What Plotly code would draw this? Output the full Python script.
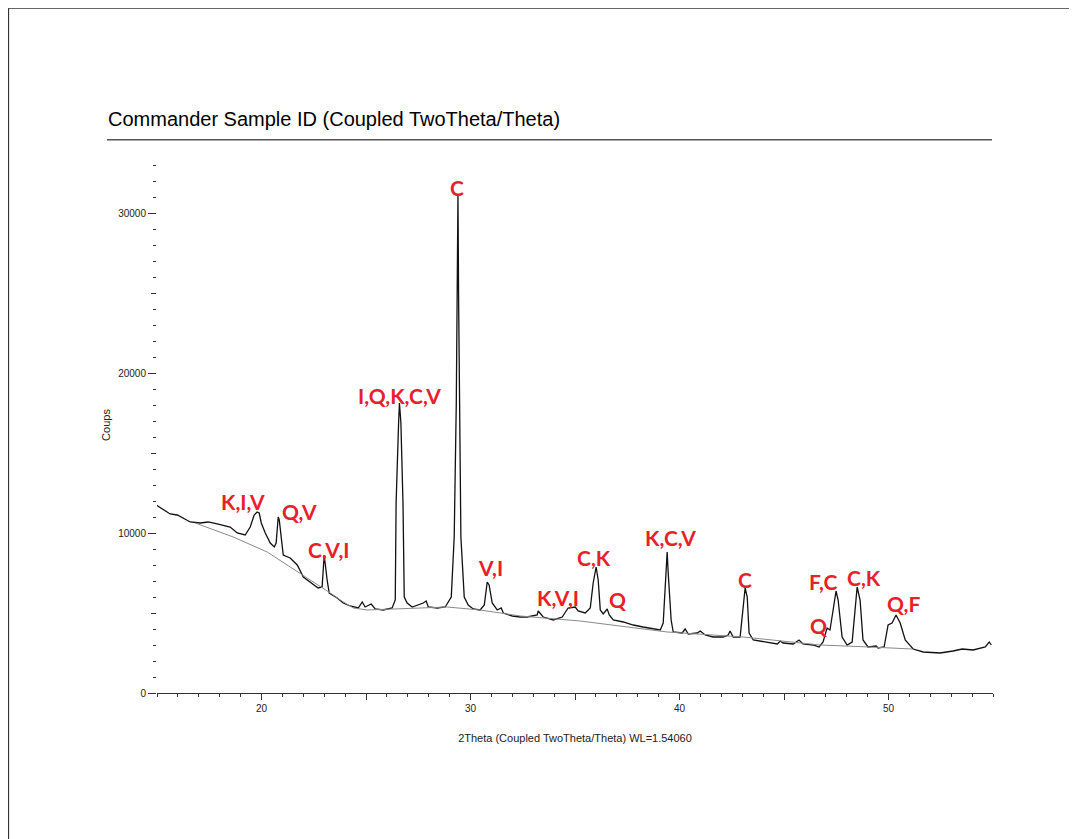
import plotly.graph_objects as go

# ---- diffraction pattern ----
two_theta = [14.96, 15.63, 15.97, 16.59, 17.07, 17.45, 17.88, 18.50, 18.84, 19.22,
             19.46, 19.65, 19.79, 19.89, 19.99, 20.18, 20.42, 20.61, 20.70, 20.80,
             20.85, 20.94, 21.04, 21.37, 21.71, 22.00, 22.33, 22.71, 22.90, 23.00,
             23.14, 23.24, 23.62, 23.91, 24.24, 24.63, 24.82, 24.96, 25.25, 25.44,
             25.82, 26.25, 26.40, 26.44, 26.56, 26.60, 26.67, 26.77, 26.83, 26.97,
             27.21, 27.45, 27.74, 27.88, 27.98, 28.41, 28.79, 29.08, 29.22, 29.32,
             29.36, 29.40, 29.43, 29.47, 29.54, 29.70, 29.89, 30.13, 30.46, 30.66,
             30.75, 30.80, 30.89, 31.04, 31.28, 31.47, 31.57, 32.00, 32.38, 32.71,
             33.19, 33.24, 33.48, 33.96, 34.39, 34.67, 35.01, 35.15, 35.49, 35.73,
             35.87, 36.01, 36.11, 36.21, 36.35, 36.54, 36.64, 36.83, 37.31, 37.79,
             38.26, 38.74, 39.08, 39.22, 39.32, 39.41, 39.46, 39.60, 39.70, 40.13,
             40.27, 40.42, 40.85, 40.99, 41.23, 41.61, 42.09, 42.33, 42.42, 42.57,
             42.90, 43.05, 43.14, 43.24, 43.33, 43.53, 44.20, 44.68, 44.82, 44.96,
             45.44, 45.72, 45.91, 46.39, 46.68, 46.87, 47.06, 47.20, 47.35, 47.49,
             47.59, 47.78, 48.02, 48.26, 48.40, 48.50, 48.64, 48.78, 49.02, 49.41,
             49.50, 49.79, 49.98, 50.17, 50.36, 50.56, 50.80, 51.18, 51.66, 52.47,
             53.09, 53.53, 54.05, 54.63, 54.82, 54.92]
counts = [11750, 11188, 11125, 10688, 10625, 10688, 10563, 10375, 10000, 9875,
          10375, 11125, 11313, 11250, 10625, 10000, 9375, 9125, 9375, 11000,
          10813, 9563, 8625, 8438, 8000, 7250, 6938, 6563, 6625, 8625,
          7063, 6250, 5938, 5625, 5438, 5313, 5688, 5375, 5563, 5250,
          5188, 5313, 5813, 11875, 16875, 18125, 16875, 11875, 6000, 5625,
          5375, 5500, 5625, 5750, 5375, 5313, 5375, 6000, 9750, 18125,
          24750, 31125, 24750, 18125, 9750, 6000, 5500, 5250, 5188, 5500,
          6625, 6938, 6750, 5625, 5188, 5313, 5000, 4813, 4750, 4750,
          4875, 5125, 4750, 4563, 4750, 5313, 5375, 5125, 5000, 5313,
          6875, 7875, 7063, 5188, 4938, 5250, 4875, 4563, 4438, 4250,
          4125, 4000, 3938, 4375, 6438, 8813, 7500, 4563, 3813, 3750,
          4000, 3688, 3750, 3875, 3625, 3500, 3500, 3625, 3875, 3500,
          3500, 5375, 6563, 6000, 3750, 3313, 3188, 3063, 3250, 3125,
          3063, 3313, 3063, 3000, 2875, 3188, 4063, 3938, 5188, 6375,
          5813, 3500, 3000, 3188, 5188, 6625, 5813, 3313, 2875, 2938,
          2813, 2875, 4250, 4375, 4875, 4375, 3313, 2750, 2563, 2500,
          2625, 2750, 2688, 2875, 3188, 3000]

# ---- background curve ----
bg_theta = [16.83, 18.65, 20.27, 21.85, 23.29, 23.77, 24.39, 25.06, 27.59, 28.88,
            30.46, 32.38, 35.25, 37.16, 39.41, 43.05, 46.73, 49.12, 51.13]
bg_counts = [10625, 9750, 8813, 7500, 6250, 5813, 5313, 5188, 5313, 5375,
             5188, 4813, 4500, 4188, 3813, 3500, 3000, 2875, 2750]

# ---- phase labels ----
label_text = ["C", "I,Q,K,C,V", "K,I,V", "Q,V", "C,V,I", "V,I", "K,V,I", "C,K",
              "Q", "K,C,V", "C", "F,C", "C,K", "Q", "Q,F"]
label_theta = [29.34, 26.59, 19.10, 21.83, 23.22, 30.97, 34.17, 35.92,
               37.02, 39.56, 43.12, 46.88, 48.81, 46.66, 50.73]
label_counts = [31563, 18625, 11938, 11313, 8938, 7813, 5938, 8500,
                5813, 9750, 7063, 6938, 7250, 4250, 5625]

# ---- axis ticks ----
x_tickvals = [20, 25, 30, 35, 40, 45, 50]
x_ticktext = ["20", "", "30", "", "40", "", "50"]
y_tickvals = [0, 10000, 20000, 30000]
y_ticktext = ["0", "10000", "20000", "30000"]
y_midticks = [5000, 15000, 25000]

X_RANGE = [15, 55]
Y_RANGE = [0, 33500]

FONT = "Liberation Sans, Arial, sans-serif"
AXC = "#333333"

fig = go.Figure()
fig.add_trace(go.Scatter(x=bg_theta, y=bg_counts, mode="lines",
                         line=dict(color="#8a8a8a", width=1), yaxis="y2",
                         hoverinfo="skip", showlegend=False))
fig.add_trace(go.Scatter(x=two_theta, y=counts, mode="lines",
                         line=dict(color="#111111", width=1.3),
                         showlegend=False))

for t, xv, yv in zip(label_text, label_theta, label_counts):
    fig.add_annotation(x=xv, y=yv, text=t, showarrow=False,
                       font=dict(family="Lato, Open Sans, sans-serif", size=21,
                                 color="#e8202a", weight="bold"),
                       xanchor="center", yanchor="middle")

fig.update_layout(
    width=1069, height=831,
    margin=dict(l=149, r=84, t=149, b=146),
    paper_bgcolor="white", plot_bgcolor="white",
    font=dict(family=FONT, size=10, color="#222222"),
    title=dict(text="Commander Sample ID (Coupled TwoTheta/Theta)",
               x=100 / 1069, xanchor="left", y=1 - 111 / 831, yanchor="middle",
               font=dict(family=FONT, size=20, color="#000000")),
    xaxis=dict(range=X_RANGE, tickmode="array", tickvals=x_tickvals,
               ticktext=x_ticktext, ticks="outside", ticklen=6, tickwidth=1,
               tickcolor=AXC, showline=True, linecolor=AXC, linewidth=1,
               showgrid=False, zeroline=False,
               minor=dict(dtick=1, tick0=0, ticks="outside", ticklen=3,
                          tickcolor=AXC, tickwidth=1, showgrid=False),
               title=dict(text="2Theta (Coupled TwoTheta/Theta) WL=1.54060",
                          font=dict(family=FONT, size=11, color="#222222"),
                          standoff=21),
               tickfont=dict(size=10)),
    yaxis=dict(range=Y_RANGE, tickmode="array", tickvals=y_tickvals,
               ticktext=y_ticktext, ticks="outside", ticklen=8, tickwidth=1,
               tickcolor=AXC, showline=False, showgrid=False, zeroline=False,
               minor=dict(dtick=1000, tick0=0, ticks="outside", ticklen=3,
                          tickcolor=AXC, tickwidth=1, showgrid=False),
               title=dict(text="Coups",
                          font=dict(family=FONT, size=11, color="#222222"),
                          standoff=5),
               tickfont=dict(size=10)),
    yaxis2=dict(range=Y_RANGE, overlaying="y", side="left", tickmode="array",
                tickvals=y_midticks, ticks="outside", ticklen=5, tickwidth=1,
                tickcolor=AXC, showticklabels=False, showline=False,
                showgrid=False, zeroline=False),
)

# title underline and page frame
fig.add_shape(type="line", xref="paper", yref="paper",
              x0=-0.0598, x1=0.9988, y0=1.0323, y1=1.0323,
              line=dict(color="#555555", width=1.5))
fig.add_shape(type="line", xref="paper", yref="paper",
              x0=-0.1782, x1=1.11, y0=1.2776, y1=1.2776,
              line=dict(color="#333333", width=1.2))
fig.add_shape(type="line", xref="paper", yref="paper",
              x0=-0.1776, x1=-0.1776, y0=1.2776, y1=-0.30,
              line=dict(color="#333333", width=1.2))

fig.write_html("out.html")
